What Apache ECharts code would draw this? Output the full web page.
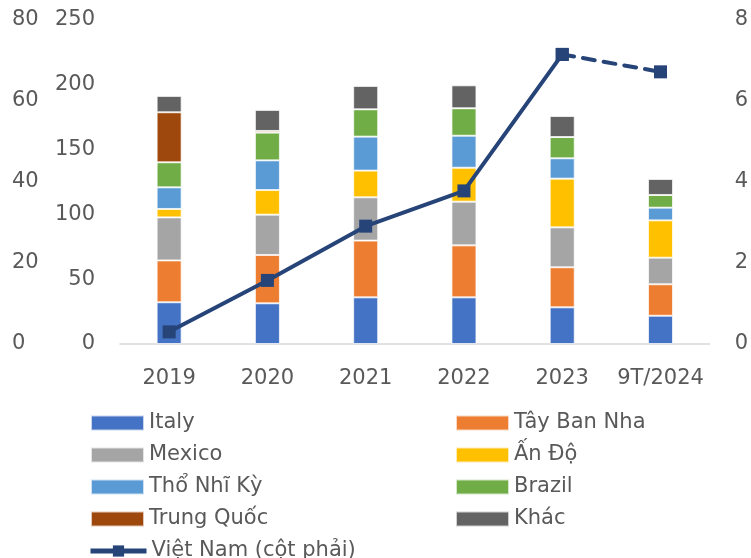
<!DOCTYPE html>
<html>
<head>
<meta charset="utf-8">
<script src="https://cdn.jsdelivr.net/npm/echarts@6/dist/echarts.min.js"></script>
<style>
  html, body { margin: 0; padding: 0; background: #fff; }
  #chart { width: 751px; height: 558px; }
</style>
</head>
<body>
<div id="chart"></div>
<script>
// Categories (years)
const categories = ['2019', '2020', '2021', '2022', '2023', '9T/2024'];

// Stacked export values by market (left axis, 0–250)
const italy  = [32.2, 31.4, 36.0, 36.0, 28.3, 21.8];
const spain  = [32.3, 37.3, 43.8, 40.1, 30.9, 24.3];
const mexico = [33.2, 31.1, 33.4, 33.7, 30.8, 20.5];
const india  = [6.5, 19.0, 20.6, 26.2, 37.6, 28.8];
const turkey = [16.7, 22.9, 26.2, 24.7, 15.7, 9.8];
const brazil = [19.3, 21.4, 21.1, 21.2, 16.4, 9.8];
const china  = [38.6, 1.3, 0, 0, 0, 0];
const other  = [12.6, 16.2, 18.0, 17.7, 16.2, 12.3];

// Viet Nam (right axis, 0–8)
const vietnam = [0.3, 1.57, 2.91, 3.78, 7.15, 6.72];

// Tick settings for the three value axes
const outerLeftTicks = { min: 0, max: 80, interval: 20 };
const innerLeftTicks = { min: 0, max: 250, interval: 50 };
const rightTicks = { min: 0, max: 8, interval: 2 };

const FONT = 'DejaVu Sans';
const TEXT = '#595959';
const LINE_COLOR = '#264478';

const barDefs = [
  ['Italy', italy, '#4472C4'],
  ['Tây Ban Nha', spain, '#ED7D31'],
  ['Mexico', mexico, '#A5A5A5'],
  ['Ấn Độ', india, '#FFC000'],
  ['Thổ Nhĩ Kỳ', turkey, '#5B9BD5'],
  ['Brazil', brazil, '#70AD47'],
  ['Trung Quốc', china, '#9E480E'],
  ['Khác', other, '#636363']
];

const series = barDefs.map(([name, data, color]) => ({
  name, type: 'bar', stack: 'total', yAxisIndex: 0, barWidth: 25,
  data,
  itemStyle: { color, borderColor: 'rgba(255,255,255,0.7)', borderWidth: 1 },
  emphasis: { disabled: true }
}));

// Solid part of the Viet Nam line (through 2023)
const solidPart = vietnam.map((v, i) => (i <= 4 ? v : null));
// Dashed part for the partial-year estimate
const dashedPart = vietnam.map((v, i) => (i >= 4 ? v : null));

const VN = 'Việt Nam (cột phải)';
series.push({
  name: VN, type: 'line', yAxisIndex: 2,
  data: solidPart, symbol: 'rect', symbolSize: 13, z: 5,
  lineStyle: { color: LINE_COLOR, width: 4 },
  itemStyle: { color: LINE_COLOR }
});
series.push({
  name: 'vn-dashed', type: 'line', yAxisIndex: 2,
  data: dashedPart, symbol: 'rect', symbolSize: 13, z: 5,
  lineStyle: { color: LINE_COLOR, width: 4, type: [12, 9], cap: 'round' },
  itemStyle: { color: LINE_COLOR }
});

// Legend: two columns, one component per entry
const legendCols = [
  { left: 90, names: ['Italy', 'Mexico', 'Thổ Nhĩ Kỳ', 'Trung Quốc', VN] },
  { left: 455, names: ['Tây Ban Nha', 'Ấn Độ', 'Brazil', 'Khác'] }
];
const legends = [];
legendCols.forEach(col => {
  col.names.forEach((name, row) => {
    const isLine = name === VN;
    legends.push({
      data: [isLine
        ? { name, itemStyle: { color: LINE_COLOR }, lineStyle: { width: 5, color: LINE_COLOR } }
        : { name, icon: 'rect' }],
      left: isLine ? col.left - 2 : col.left, top: 412 + row * 32, padding: 0,
      itemWidth: isLine ? 56 : 53, itemHeight: isLine ? 14 : 15, itemGap: 0,
      textStyle: { color: TEXT, fontSize: 21, fontFamily: FONT, lineHeight: 22 },
      selectedMode: false
    });
  });
});

const option = {
  animation: false,
  backgroundColor: '#fff',
  textStyle: { fontFamily: FONT },
  grid: { left: 120, right: 41, top: 20, bottom: 214 },
  legend: legends,
  xAxis: {
    type: 'category', data: categories,
    axisLine: { lineStyle: { color: '#D9D9D9', width: 1.5 } },
    axisTick: { show: false },
    axisLabel: { color: TEXT, fontSize: 21, fontFamily: FONT, margin: 24, interval: 0 }
  },
  yAxis: [
    {
      type: 'value', position: 'left', ...innerLeftTicks,
      splitLine: { show: false }, axisLine: { show: false }, axisTick: { show: false },
      axisLabel: { color: TEXT, fontSize: 21, fontFamily: FONT, margin: 25 }
    },
    {
      type: 'value', position: 'left', ...outerLeftTicks,
      splitLine: { show: false }, axisLine: { show: false }, axisTick: { show: false },
      axisLabel: { color: TEXT, fontSize: 21, fontFamily: FONT, align: 'left', margin: 108 }
    },
    {
      type: 'value', position: 'right', ...rightTicks,
      splitLine: { show: false }, axisLine: { show: false }, axisTick: { show: false },
      axisLabel: { color: TEXT, fontSize: 21, fontFamily: FONT, align: 'left', margin: 25 }
    }
  ],
  series
};

const chart = echarts.init(document.getElementById('chart'), null, { renderer: 'canvas' });
chart.setOption(option);
</script>
</body>
</html>
